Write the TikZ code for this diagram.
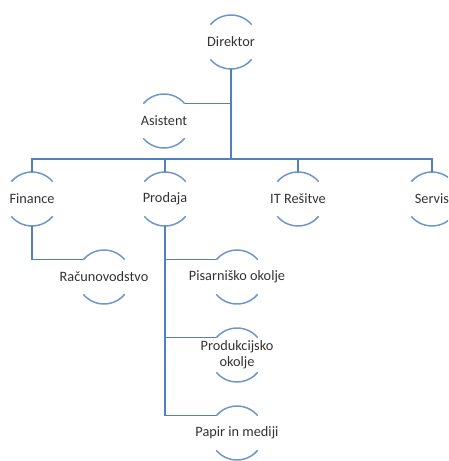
\documentclass[tikz,border=0pt]{standalone}
\usepackage{fontspec}
\setmainfont{Carlito}
\usetikzlibrary{calc}
\definecolor{orgline}{RGB}{79,129,189}
\definecolor{orgarc}{RGB}{110,150,202}
\definecolor{orgtext}{RGB}{50,50,50}
\tikzstyle{orgchartstyle}=[
    x=1pt, y=-1pt,
    line width=1.5pt,
    every node/.style={
        inner sep=0pt,
        text=orgtext,
        font=\fontsize{14.3}{16}\selectfont,
        align=center,
    },
]
\tikzstyle{arcline}=[orgarc, line width=1.5pt]
\tikzstyle{link}=[orgline, line width=1.5pt]

\begin{document}
\begin{tikzpicture}[orgchartstyle]
    \useasboundingbox (0,0) rectangle (448,461);
    \clip (0,0) rectangle (448,461);
    % people and departments
    \node (dir)   at (231, 42)  {Direktor};
    \node (asis)  at (164, 121) {Asistent};
    \node (fin)   at (32, 199)  {Finance};
    \node (prod)  at (165, 199) {Prodaja};
    \node (itr)   at (298, 199) {IT Rešitve};
    \node (serv)  at (432, 199) {Servis};
    \node (racun) at (104, 277) {Računovodstvo};
    \node (pis)   at (237, 277) {Pisarniško okolje};
    \node (prk)   at (237, 355) {Produkcijsko\\okolje};
    \node (pap)   at (237, 433) {Papir in mediji};
    % arcs round each node
    \foreach \n in {dir,asis,fin,prod,itr,serv,racun,pis,prk,pap}{
        \draw[arcline] ([shift={(40:27pt)}]\n.center) arc[start angle=40, end angle=140, radius=27pt];
        \draw[arcline] ([shift={(220:27pt)}]\n.center) arc[start angle=220, end angle=320, radius=27pt];
        \coordinate (\n-t)  at ([shift={(90:27pt)}]\n.center);
        \coordinate (\n-b)  at ([shift={(270:27pt)}]\n.center);
        \coordinate (\n-tl) at ([shift={(140:27pt)}]\n.center);
        \coordinate (\n-tr) at ([shift={(40:27pt)}]\n.center);
    }
    % connectors
    \coordinate (bus) at (231, 159);
    \draw[link] (dir-b) -- (bus);
    \draw[link] (dir-b |- asis-tr) -- (asis-tr);
    \draw[link] (fin-t) -- (fin-t |- bus) -| (serv-t);
    \draw[link] (prod-t) -- (prod-t |- bus);
    \draw[link] (itr-t) -- (itr-t |- bus);
    \draw[link] (fin-b) |- (racun-tl);
    \draw[link] (prod-b) |- (pis-tl);
    \draw[link] (prod-b) |- (prk-tl);
    \draw[link] (prod-b) |- (pap-tl);
\end{tikzpicture}
\end{document}
